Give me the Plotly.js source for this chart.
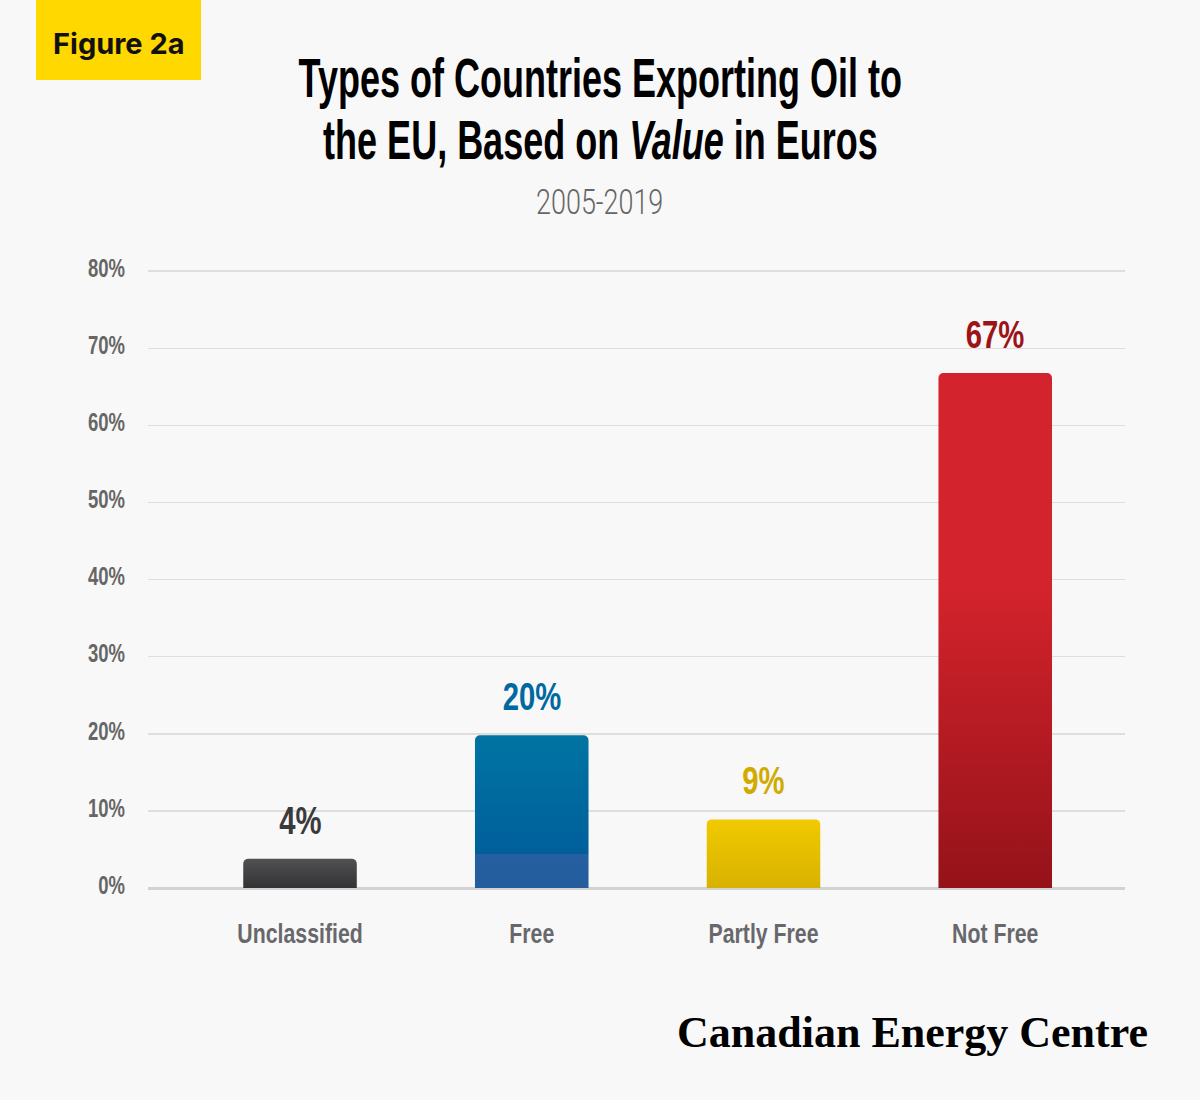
<!DOCTYPE html>
<html><head><meta charset="utf-8">
<script src="https://cdn.plot.ly/plotly-3.0.1.min.js"></script>
<style>html,body{margin:0;padding:0;background:#f8f8f8;}</style>
</head><body>
<div id="chart" style="width:1200px;height:1100px;"></div>
<script>
// ---- data ----
var categories = ["Unclassified", "Free", "Partly Free", "Not Free"];
var shares = [3.8, 19.8, 8.9, 66.8];
var shareLabels = ["4%", "20%", "9%", "67%"];
var tickVals = [0, 10, 20, 30, 40, 50, 60, 70, 80];
var tickText = ["0%", "10%", "20%", "30%", "40%", "50%", "60%", "70%", "80%"];

// ---- styles ----
var barColors = ["#434345", "#006ca0", "#e6c000", "#c41f26"];
var labelColors = ["#3a3a3c", "#0069a0", "#d1ab00", "#9c1418"];
var barGradients = [
  [[0, "#515154"], [1, "#333335"]],
  [[0, "#0074a3"], [0.78, "#005f9b"], [0.78, "#245f9f"], [1, "#245d9d"]],
  [[0, "#f1ca00"], [1, "#d8b200"]],
  [[0, "#d3232c"], [0.42, "#d3232c"], [1, "#951219"]]
];

var SANS = "'Liberation Sans', Arial, sans-serif";
var L = 148, R = 75, T = 270, B = 212, W = 1200, H = 1100;
var pw = W - L - R, ph = H - T - B;
function px(x){ return (x - L) / pw; }
function py(y){ return (H - B - y) / ph; }

var trace = {
  type: "bar",
  x: categories,
  y: shares,
  width: 0.49,
  marker: { color: barColors, line: { width: 0 } },
  hoverinfo: "skip"
};

var annotations = [];
var squeeze = [];
categories.forEach(function(c, i){
  annotations.push({
    x: c, y: shares[i], xref: "x", yref: "y",
    text: "<b>" + shareLabels[i] + "</b>",
    showarrow: false, yanchor: "middle", yshift: 38,
    font: { family: SANS, size: 38, color: labelColors[i] }
  });
  squeeze.push(0.77);
});

annotations.push({
  xref: "paper", yref: "paper", x: px(119), y: py(43),
  text: "<b>Figure 2a</b>", showarrow: false,
  xanchor: "center", yanchor: "middle",
  font: { family: "Inter, 'Noto Sans', sans-serif", size: 29, color: "#111" }
});
squeeze.push(1);
annotations.push({
  xref: "paper", yref: "paper", x: px(600), y: py(78),
  text: "<b>Types of Countries Exporting Oil to</b>",
  showarrow: false, xanchor: "center", yanchor: "middle",
  font: { family: SANS, size: 56, color: "#000" }
});
squeeze.push(0.643);
annotations.push({
  xref: "paper", yref: "paper", x: px(600), y: py(140),
  text: "<b>the EU, Based on <i>Value</i> in Euros</b>",
  showarrow: false, xanchor: "center", yanchor: "middle",
  font: { family: SANS, size: 56, color: "#000" }
});
squeeze.push(0.643);
annotations.push({
  xref: "paper", yref: "paper", x: px(599), y: py(203),
  text: "2005-2019", showarrow: false, xanchor: "center", yanchor: "middle",
  font: { family: "Roboto, 'Liberation Sans', sans-serif", weight: 300, size: 35, color: "#666" }
});
squeeze.push(0.77);
annotations.push({
  xref: "paper", yref: "paper", x: px(1150), y: py(1032),
  text: "<b>Canadian Energy Centre</b>", showarrow: false,
  xanchor: "right", yanchor: "middle",
  font: { family: "'Liberation Serif', 'DejaVu Serif', serif", size: 44, color: "#000" }
});
squeeze.push(1);

var layout = {
  width: W, height: H,
  margin: { l: L, r: R, t: T, b: B, pad: 0 },
  paper_bgcolor: "#f8f8f8",
  plot_bgcolor: "#f8f8f8",
  showlegend: false,
  barcornerradius: 5,
  xaxis: {
    range: [-0.656, 3.56],
    showgrid: false, zeroline: false, showline: false,
    ticks: "", ticklabelstandoff: 26,
    tickfont: { family: SANS, size: 28, weight: "bold", color: "#68686c" },
    fixedrange: true
  },
  yaxis: {
    range: [0, 80.15],
    tickvals: tickVals, ticktext: tickText,
    showgrid: true, gridcolor: "#dedede", gridwidth: 1.5,
    zeroline: true, zerolinecolor: "#d2d2d2", zerolinewidth: 3,
    showline: false, ticks: "", ticklabelstandoff: 22, ticklabelshift: -3,
    tickfont: { family: SANS, size: 25, weight: "bold", color: "#666" },
    fixedrange: true
  },
  shapes: [{
    type: "rect", xref: "paper", yref: "paper",
    x0: px(36), x1: px(201), y0: py(80), y1: py(0),
    fillcolor: "#ffd800", line: { width: 0 }, layer: "below"
  }],
  annotations: annotations
};

Plotly.newPlot("chart", [trace], layout, { displayModeBar: false, staticPlot: true }).then(function(gd){
  var ns = "http://www.w3.org/2000/svg";
  var svg = gd.querySelector(".main-svg");
  var defs = svg.querySelector("defs") || svg.insertBefore(document.createElementNS(ns, "defs"), svg.firstChild);
  barGradients.forEach(function(stops, i){
    var lg = document.createElementNS(ns, "linearGradient");
    lg.setAttribute("id", "barGrad" + i);
    lg.setAttribute("x1", "0"); lg.setAttribute("y1", "0");
    lg.setAttribute("x2", "0"); lg.setAttribute("y2", "1");
    stops.forEach(function(s){
      var st = document.createElementNS(ns, "stop");
      st.setAttribute("offset", s[0]);
      st.setAttribute("stop-color", s[1]);
      lg.appendChild(st);
    });
    defs.appendChild(lg);
  });
  gd.querySelectorAll(".bars .point path").forEach(function(p, i){
    p.style.fill = "url(#barGrad" + i + ")";
  });

  // condensed look for text
  gd.querySelectorAll(".annotation").forEach(function(a){
    var idx = +a.getAttribute("data-index");
    var f = squeeze[idx];
    var t = a.querySelector("text");
    if (t && f !== 1) {
      t.style.transformBox = "fill-box";
      t.style.transformOrigin = "center";
      t.style.transform = "scaleX(" + f + ")";
    }
  });
  function squeezeTicks(sel, f){
    gd.querySelectorAll(sel).forEach(function(t){
      var w = t.getComputedTextLength();
      t.setAttribute("textLength", (w * f).toFixed(1));
      t.setAttribute("lengthAdjust", "spacingAndGlyphs");
    });
  }
  squeezeTicks(".xtick text", 0.76);
  squeezeTicks(".ytick text", 0.74);
});
</script>
</body></html>
